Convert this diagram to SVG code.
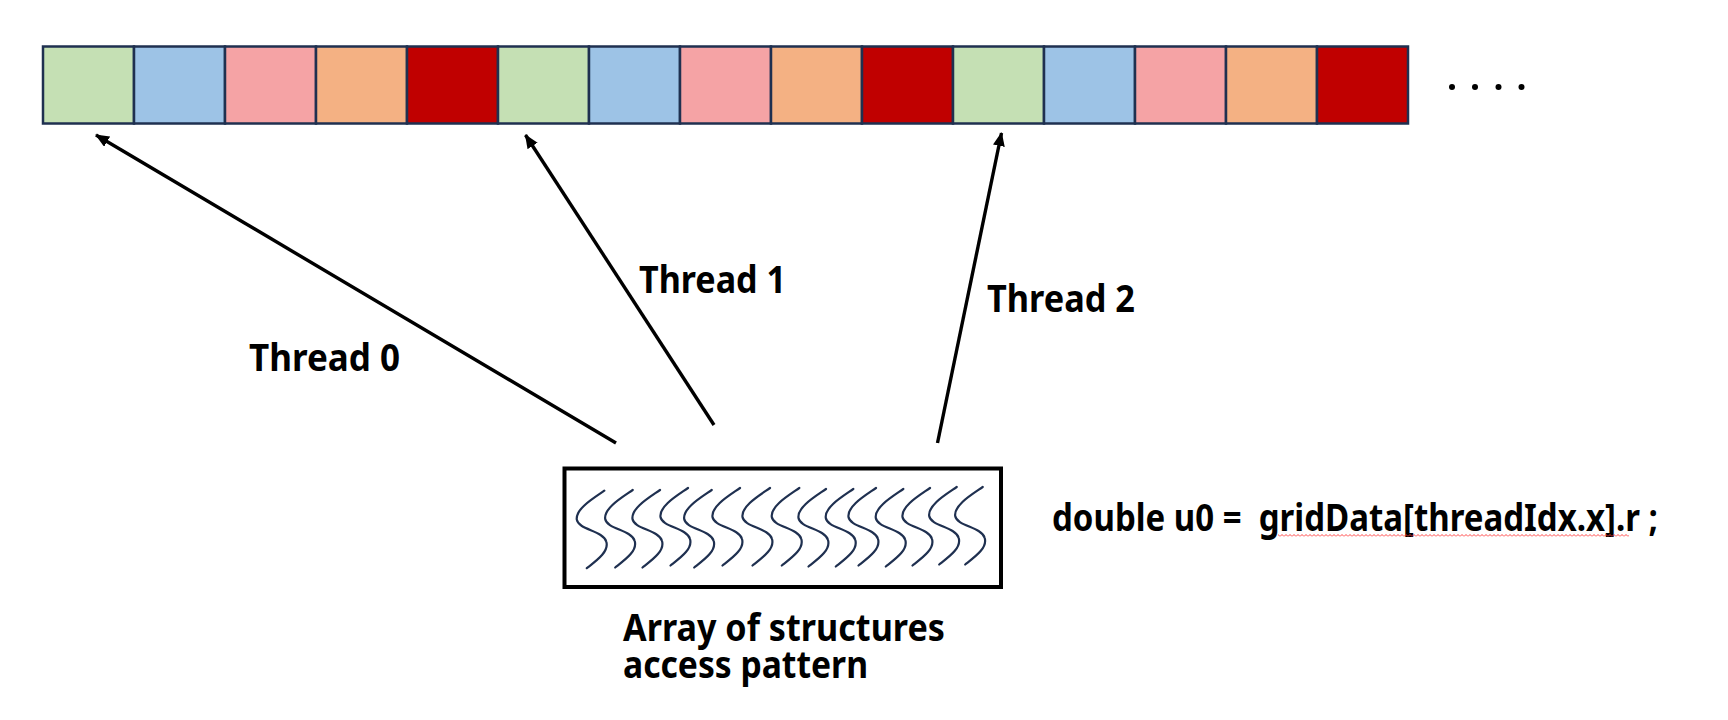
<svg xmlns="http://www.w3.org/2000/svg" width="1728" height="720" viewBox="0 0 1728 720">
<style>
.cell{stroke:#1F3050;stroke-width:2.5}
.g{fill:#C5E0B4}.b{fill:#9DC3E6}.p{fill:#F5A3A5}.o{fill:#F4B183}.r{fill:#C00000}
.lbl{font-family:"Noto Sans","Open Sans","Liberation Sans",sans-serif;font-weight:700;font-size:37px;fill:#000}
.conn{stroke:#000;stroke-width:3.4;fill:none;marker-end:url(#ah)}
.sq{stroke:#1F3050;stroke-width:2.2;fill:none;stroke-linecap:round}
</style>
<defs>
<marker id="ah" markerWidth="14" markerHeight="12" refX="13" refY="6" orient="auto" markerUnits="userSpaceOnUse">
<path d="M0,0 L14,6 L0,12 Z" fill="#000"/>
</marker>
<path id="s" class="sq" d="M0,0 C-10,7 -29,18 -27.5,29 C-26,39 -1,40 2,51 C5,61 -8,70 -17.5,77.5"/>
<pattern id="wave" width="4" height="3" patternUnits="userSpaceOnUse">
<path d="M0,2.5 L2,0.5 L4,2.5" stroke="#FF3030" stroke-width="0.9" fill="none"/>
</pattern>
</defs>
<rect width="1728" height="720" fill="#fff"/>
<g id="array">
<rect class="cell g" x="43" y="46.5" width="91" height="77"/>
<rect class="cell b" x="134" y="46.5" width="91" height="77"/>
<rect class="cell p" x="225" y="46.5" width="91" height="77"/>
<rect class="cell o" x="316" y="46.5" width="91" height="77"/>
<rect class="cell r" x="407" y="46.5" width="91" height="77"/>
<rect class="cell g" x="498" y="46.5" width="91" height="77"/>
<rect class="cell b" x="589" y="46.5" width="91" height="77"/>
<rect class="cell p" x="680" y="46.5" width="91" height="77"/>
<rect class="cell o" x="771" y="46.5" width="91" height="77"/>
<rect class="cell r" x="862" y="46.5" width="91" height="77"/>
<rect class="cell g" x="953" y="46.5" width="91" height="77"/>
<rect class="cell b" x="1044" y="46.5" width="91" height="77"/>
<rect class="cell p" x="1135" y="46.5" width="91" height="77"/>
<rect class="cell o" x="1226" y="46.5" width="91" height="77"/>
<rect class="cell r" x="1317" y="46.5" width="91" height="77"/>
</g>
<g id="ellipsis" fill="#000">
<circle cx="1452" cy="87" r="3"/>
<circle cx="1475" cy="87" r="3"/>
<circle cx="1498.5" cy="87" r="3"/>
<circle cx="1521.5" cy="87" r="3"/>
</g>
<g id="connectors">
<line class="conn" x1="616" y1="443" x2="96" y2="135"/>
<line class="conn" x1="714" y1="425" x2="525.5" y2="135"/>
<line class="conn" x1="937.5" y1="443" x2="1001.5" y2="133"/>
</g>
<g id="thread-labels">
<text class="lbl" x="249" y="371" textLength="151" lengthAdjust="spacingAndGlyphs">Thread 0</text>
<text class="lbl" x="639" y="293" textLength="147" lengthAdjust="spacingAndGlyphs">Thread 1</text>
<text class="lbl" x="987" y="312" textLength="148" lengthAdjust="spacingAndGlyphs">Thread 2</text>
</g>
<g id="aos-box">
<rect x="564.5" y="468.5" width="436.5" height="118.5" fill="#fff" stroke="#000" stroke-width="4"/>
<use href="#s" x="604.3" y="490.7"/>
<use href="#s" x="632.7" y="490"/>
<use href="#s" x="660" y="490"/>
<use href="#s" x="688" y="488"/>
<use href="#s" x="711.7" y="490"/>
<use href="#s" x="740" y="488"/>
<use href="#s" x="770" y="488"/>
<use href="#s" x="799.3" y="488"/>
<use href="#s" x="826" y="489"/>
<use href="#s" x="853.3" y="489"/>
<use href="#s" x="876" y="488"/>
<use href="#s" x="903.3" y="489"/>
<use href="#s" x="930" y="488"/>
<use href="#s" x="956.7" y="487"/>
<use href="#s" x="982.7" y="487"/>
</g>
<g id="aos-caption">
<text class="lbl" x="623" y="641" textLength="322" lengthAdjust="spacingAndGlyphs">Array of structures</text>
<text class="lbl" x="623" y="678" textLength="245" lengthAdjust="spacingAndGlyphs">access pattern</text>
</g>
<g id="code">
<text class="lbl" x="1052" y="531" textLength="606" lengthAdjust="spacingAndGlyphs" xml:space="preserve">double u0 =  gridData[threadIdx.x].r ;</text>
<rect x="1278" y="534" width="351" height="3" fill="url(#wave)"/>
</g>
</svg>
